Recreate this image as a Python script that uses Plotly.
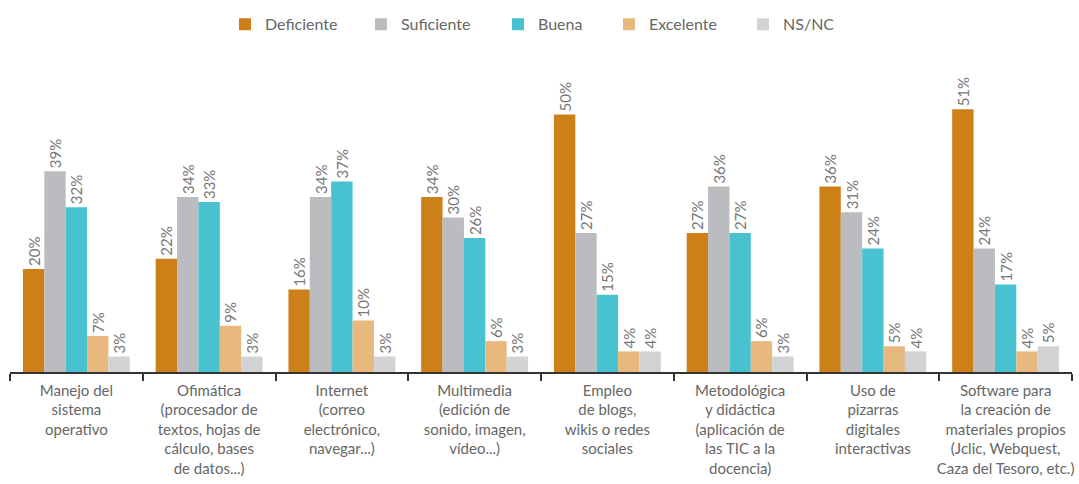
import plotly.graph_objects as go

categories = [
    "Manejo del<br>sistema<br>operativo",
    "Ofimática<br>(procesador de<br>textos, hojas de<br>cálculo, bases<br>de datos...)",
    "Internet<br>(correo<br>electrónico,<br>navegar...)",
    "Multimedia<br>(edición de<br>sonido, imagen,<br>vídeo...)",
    "Empleo<br>de blogs,<br>wikis o redes<br>sociales",
    "Metodológica<br>y didáctica<br>(aplicación de<br>las TIC a la<br>docencia)",
    "Uso de<br>pizarras<br>digitales<br>interactivas",
    "Software para<br>la creación de<br>materiales propios<br>(Jclic, Webquest,<br>Caza del Tesoro, etc.)",
]

deficiente = [20, 22, 16, 34, 50, 27, 36, 51]
suficiente = [39, 34, 34, 30, 27, 36, 31, 24]
buena = [32, 33, 37, 26, 15, 27, 24, 17]
excelente = [7, 9, 10, 6, 4, 6, 5, 4]
nsnc = [3, 3, 3, 3, 4, 3, 4, 5]

series_names = ["Deficiente", "Suficiente", "Buena", "Excelente", "NS/NC"]
series_values = [deficiente, suficiente, buena, excelente, nsnc]
series_colors = ["#CE8018", "#BBBCBF", "#48C2D0", "#E8B97E", "#D2D3D5"]

# legend item text start positions (pixels from the left of the page)
legend_text_px = [262, 398, 535, 646, 780]

W, H = 1079, 484
ML, MR, MT, MB = 10, 7, 61, 112
plot_w = W - ML - MR
plot_h = H - MT - MB

FONT = "Lato"
fig = go.Figure()
legend_layouts = {}
for i, (name, vals, color) in enumerate(zip(series_names, series_values, series_colors)):
    key = "legend" if i == 0 else f"legend{i + 1}"
    fig.add_trace(go.Bar(
        name=name, x=categories, y=vals,
        marker=dict(color=color, line=dict(width=0)),
        text=[f"{v}%" for v in vals],
        textposition="outside", textangle=-90, constraintext="none",
        textfont=dict(family=FONT, size=15, color="#777777"),
        cliponaxis=False, legend=key, showlegend=True, hoverinfo="skip",
    ))
    legend_layouts[key] = dict(
        orientation="h", x=(legend_text_px[i] - 37 - ML) / plot_w, xanchor="left",
        y=1 + (MT - 22) / plot_h, yanchor="middle",
        font=dict(family=FONT, size=16, color="#666666"),
        bgcolor="rgba(0,0,0,0)", borderwidth=0,
    )

fig.update_layout(
    width=W, height=H,
    margin=dict(l=ML, r=MR, t=MT, b=MB),
    paper_bgcolor="white", plot_bgcolor="white",
    barmode="group", bargap=0.195, bargroupgap=0,
    font=dict(family=FONT, color="#666666"),
    showlegend=True,
    xaxis=dict(type="category", tickson="boundaries", ticks="outside", ticklen=7,
               tickcolor="#333333", tickwidth=1.5, tickangle=0, automargin=False,
               ticklabelstandoff=4,
               showline=True, linecolor="#333333", linewidth=1.5,
               showgrid=False, tickfont=dict(family=FONT, size=15, color="#666666")),
    yaxis=dict(range=[0, 60], visible=False, showgrid=False, automargin=False),
    **legend_layouts,
)

fig.write_html("out.html", config={"displayModeBar": False},
               post_script="document.body.style.margin='0';")
